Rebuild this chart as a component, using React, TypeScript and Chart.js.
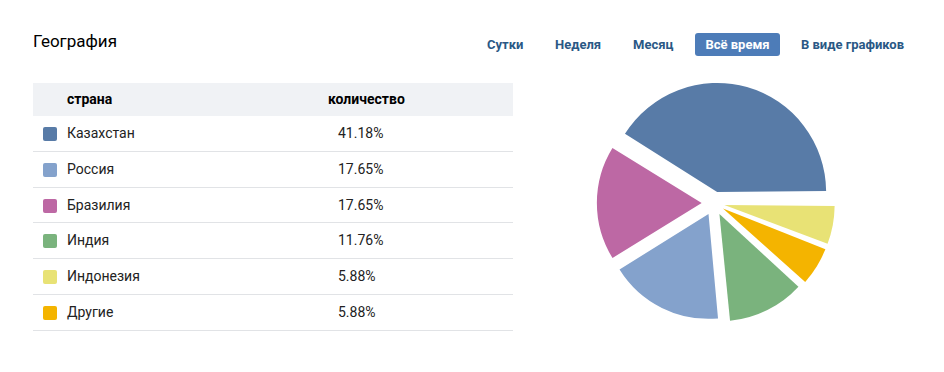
import React, { useEffect, useRef } from "react";
import { Chart, registerables } from "chart.js";

Chart.register(...registerables);

const categories = ["Казахстан", "Россия", "Бразилия", "Индия", "Индонезия", "Другие"];
const values = [41.18, 17.65, 17.65, 11.76, 5.88, 5.88];
const colors = ["#587ba7", "#84a2cc", "#bd68a4", "#7ab37d", "#e8e275", "#f4b400"];
// order of slices in the pie, clockwise from 3 o'clock
const pieOrder = [4, 5, 3, 1, 2, 0];
const tabs = ["Сутки", "Неделя", "Месяц", "Всё время", "В виде графиков"];
const activeTab = "Всё время";

const font = "Roboto, 'Noto Sans', Arial, sans-serif";
const explode = 12; // desired slice displacement in px
const targetRadius = 108;
const baseRadius = 103.5;

function PieChart() {
  const ref = useRef<HTMLCanvasElement | null>(null);
  useEffect(() => {
    if (!ref.current) return;
    const pieValues = pieOrder.map((i) => values[i]);
    const total = pieValues.reduce((a, b) => a + b, 0);
    const chart = new Chart(ref.current, {
      type: "pie",
      data: {
        labels: pieOrder.map((i) => categories[i]),
        datasets: [
          {
            data: pieValues,
            backgroundColor: pieOrder.map((i) => colors[i]),
            borderWidth: 0,
            // Chart.js moves an arc by offset/4 and grows it by offset/4 * fix;
            // pick per-slice offsets that keep displacement and radius close to the target
            offset: (ctx: any) => {
              const v = pieValues[ctx.dataIndex] ?? 0;
              const circ = (v / total) * Math.PI * 2;
              const fix = 1 - Math.sin(Math.min(Math.PI, circ));
              const a = (explode + fix * (targetRadius - baseRadius)) / (1 + fix * fix);
              return 4 * a;
            },
            hoverOffset: 0,
            radius: baseRadius,
          } as any,
        ],
      },
      options: {
        animation: false,
        responsive: true,
        maintainAspectRatio: false,
        rotation: 90,
        layout: { padding: 0 },
        events: [],
        plugins: {
          legend: { display: false },
          tooltip: { enabled: false },
        },
      },
    });
    return () => chart.destroy();
  }, []);
  return <canvas ref={ref} />;
}

export default function App() {
  useEffect(() => {
    document.body.style.margin = "0";
  }, []);
  const tabPos = [487, 555, 633, 695, 801];
  return (
    <div
      style={{
        position: "absolute",
        left: 0,
        top: 0,
        width: 944,
        height: 372,
        background: "#fff",
        fontFamily: font,
        overflow: "hidden",
      }}
    >
      <div
        style={{
          position: "absolute",
          left: 33,
          top: 30,
          fontSize: 17,
          lineHeight: "22px",
          color: "#000",
        }}
      >
        География
      </div>
      {tabs.map((t, i) => {
        const active = t === activeTab;
        return (
          <div
            key={t}
            style={{
              position: "absolute",
              left: tabPos[i],
              top: 33,
              height: 23,
              lineHeight: "23px",
              padding: active ? "0 10px" : 0,
              width: active ? 65 : undefined,
              textAlign: "center",
              fontSize: 13,
              fontWeight: 700,
              color: active ? "#fff" : "#2a5885",
              background: active ? "#4d7cb8" : "transparent",
              borderRadius: 3,
              whiteSpace: "nowrap",
            }}
          >
            {t}
          </div>
        );
      })}
      <div style={{ position: "absolute", left: 33, top: 83, width: 480 }}>
        <div
          style={{
            height: 33,
            background: "#f0f2f5",
            position: "relative",
            fontSize: 14,
            fontWeight: 700,
            color: "#000",
          }}
        >
          <span style={{ position: "absolute", left: 34, top: 7, lineHeight: "18px" }}>страна</span>
          <span style={{ position: "absolute", left: 295, top: 7, lineHeight: "18px" }}>количество</span>
        </div>
        {categories.map((c, i) => (
          <div
            key={c}
            style={{
              height: 35.8,
              boxSizing: "border-box",
              borderBottom: "1px solid #e1e3e6",
              position: "relative",
              fontSize: 14,
              color: "#222",
            }}
          >
            <span
              style={{
                position: "absolute",
                left: 10,
                top: 11,
                width: 14,
                height: 14,
                borderRadius: 2,
                background: colors[i],
              }}
            />
            <span style={{ position: "absolute", left: 34, top: 8, lineHeight: "18px" }}>{c}</span>
            <span style={{ position: "absolute", left: 305, top: 8, lineHeight: "18px" }}>
              {values[i].toFixed(2)}%
            </span>
          </div>
        ))}
      </div>
      <div style={{ position: "absolute", left: 582, top: 71, width: 264, height: 264 }}>
        <PieChart />
      </div>
    </div>
  );
}
